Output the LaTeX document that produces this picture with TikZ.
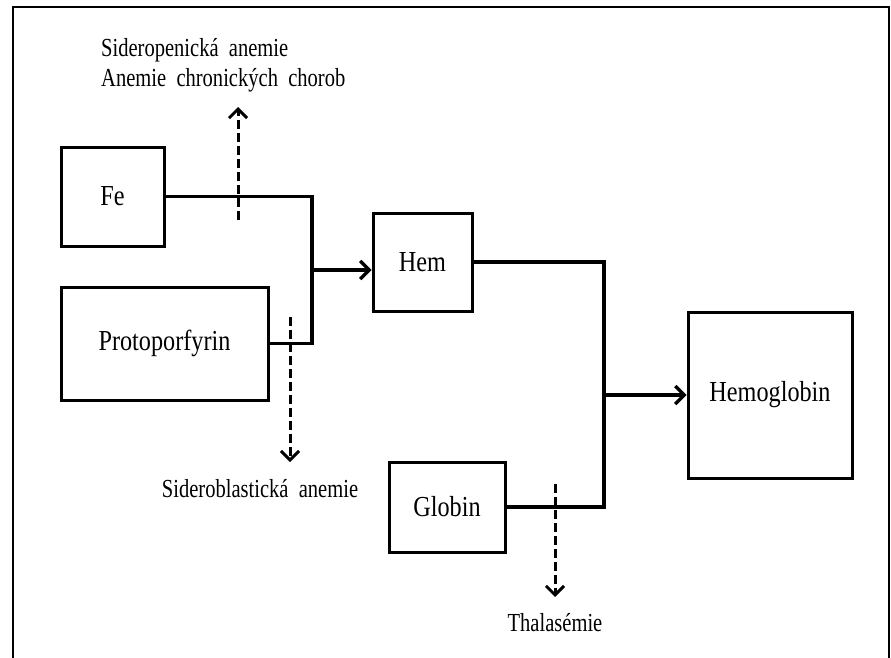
\documentclass[tikz,border=0pt]{standalone}
\usepackage{fontspec}
\setmainfont{Liberation Serif}[FakeStretch=0.835]
\newfontfamily\notefont{Liberation Serif}[FakeStretch=0.79,WordSpace=2]
\usepackage{tikz}
\usetikzlibrary{arrows.meta,positioning,calc}
\tikzset{
  box/.style={draw, line width=3pt, inner sep=0pt, font=\fontsize{29}{32}\selectfont},
  conn/.style={line width=3.2pt},
  cut/.style={line width=3pt, dash pattern=on 9pt off 4pt},
  note/.style={inner sep=0pt, font=\notefont\fontsize{26}{30}\selectfont}
}

\begin{document}
\begin{tikzpicture}[x=1pt,y=-1pt,>={Straight Barb[length=9pt,width=18pt]}]
\useasboundingbox (0,0) rectangle (891,658);
\draw[line width=1.5pt] (13,658) -- (13,7) -- (889,7) -- (889,658);

% boxes
\node[box, minimum width=103pt, minimum height=99pt] (fe) at (112.5,196.5) {Fe};
\node[box, minimum width=207pt, minimum height=113pt] (proto) at (164.5,343.5) {Protoporfyrin};
\node[box, minimum width=99pt, minimum height=98pt] (hem) at (422.5,262) {Hem};
\node[box, minimum width=116pt, minimum height=90pt] (globin) at (447,507) {Globin};
\node[box, minimum width=164pt, minimum height=166pt] (hgb) at (770,395) {Hemoglobin};

% joins
\coordinate (j1) at (312,270);
\coordinate (j2) at (604,395);

\draw[conn] (fe.east) -| (j1) |- (proto.east);
\draw[conn,->] (j1) -- (j1 -| hem.west);
\draw[conn] (hem.east) -| (j2) |- (globin.east);
\draw[conn,->] (j2) -- (hgb.west);

% defects
\node[note, align=left, anchor=north west] (sidero) at (101,38) {Sideropenická anemie\\Anemie chronických chorob};
\node[note, anchor=base] (blast) at (260,497) {Sideroblastická anemie};
\node[note, anchor=base] (thal) at (555,631) {Thalasémie};

\coordinate (c1) at (238,220);
\coordinate (t1) at (238,107);
\coordinate (c2) at (290,317);
\coordinate (t2) at (290,462);
\coordinate (c3) at (555,484);
\coordinate (t3) at (555,597);

\draw[cut,->] (c1) -- (t1);
\draw[cut,->] (c2) -- (t2);
\draw[cut,->] (c3) -- (t3);

\end{tikzpicture}
\end{document}
